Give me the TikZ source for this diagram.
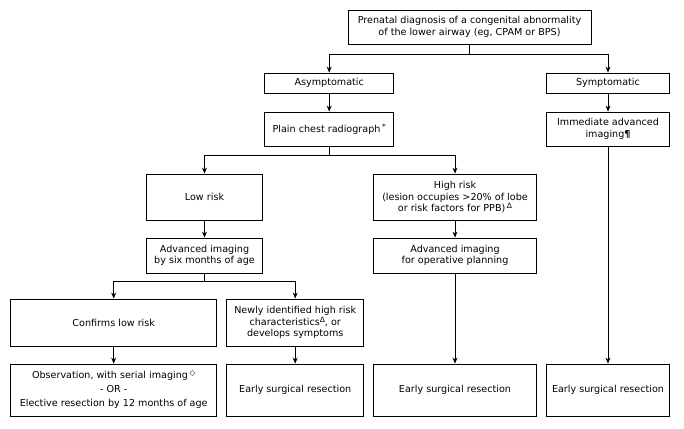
\documentclass[tikz,border=0pt]{standalone}
\usepackage{fontspec}
\setmainfont{DejaVu Sans}
\usetikzlibrary{arrows.meta}
\newcommand{\fnmark}[1]{\raisebox{0.55ex}{\fontsize{7.5}{8}\selectfont #1}}
\begin{document}
\begin{tikzpicture}[x=1pt, y=-1pt, line width=0.8pt,
    box/.style={draw, align=center, inner sep=2pt, font=\fontsize{9.6}{11.5}\selectfont},
    arr/.style={-{Stealth[length=6pt, width=5pt]}}]
    \useasboundingbox (0,0) rectangle (684,428);
    \node[box, minimum width=243pt, minimum height=34pt] (prenatal) at (469.5,27) {Prenatal diagnosis of a congenital abnormality\\of the lower airway (eg, CPAM or BPS)};
    \node[box, minimum width=129pt, minimum height=20pt] (asym) at (329.2,83) {Asymptomatic};
    \node[box, minimum width=122.6pt, minimum height=20pt] (sym) at (608,83) {Symptomatic};
    \node[box, minimum width=129pt, minimum height=34pt] (chest) at (329.2,129) {Plain chest radiograph\,\fnmark{*}};
    \node[box, minimum width=122.6pt, minimum height=34pt] (immed) at (608,129) {Immediate advanced\\imaging\textbf{¶}};
    \node[box, minimum width=115.6pt, minimum height=46pt] (low) at (204.5,197) {Low risk};
    \node[box, minimum width=162.6pt, minimum height=46pt] (high) at (455,197) {High risk\\(lesion occupies >20\% of lobe\\or risk factors for PPB)\,\fnmark{Δ}};
    \node[box, minimum width=115.6pt, minimum height=35pt] (advlow) at (204.5,255.5) {Advanced imaging\\by six months of age};
    \node[box, minimum width=162.6pt, minimum height=35pt] (advhigh) at (455,255.5) {Advanced imaging\\for operative planning};
    \node[box, minimum width=206pt, minimum height=47pt] (confirm) at (113.7,322.5) {Confirms low risk};
    \node[box, minimum width=137pt, minimum height=47pt] (newly) at (295.2,322.5) {Newly identified high risk\\characteristics\fnmark{Δ}, or\\develops symptoms};
    \node[box, minimum width=206pt, minimum height=52pt] (observe) at (113.7,390) {Observation, with serial imaging\,\fnmark{◇}\\[2.5pt]- OR -\\[2.5pt]Elective resection by 12 months of age};
    \node[box, minimum width=137pt, minimum height=52pt] (early1) at (295.2,390) {Early surgical resection};
    \node[box, minimum width=162.6pt, minimum height=52pt] (early2) at (455,390) {Early surgical resection};
    \node[box, minimum width=122.6pt, minimum height=52pt] (early3) at (608,390) {Early surgical resection};
    \coordinate (split1) at (469.5,54);
    \coordinate (split2) at (329.2,155);
    \coordinate (split3) at (204.5,281);
    \draw (prenatal) -- (split1);
    \draw[arr] (split1) -| (asym);
    \draw[arr] (split1) -| (sym);
    \draw[arr] (asym) -- (chest);
    \draw[arr] (sym) -- (immed);
    \draw (chest) -- (split2);
    \draw[arr] (split2) -| (low);
    \draw[arr] (split2) -| (high);
    \draw[arr] (immed) -- (early3);
    \draw[arr] (low) -- (advlow);
    \draw[arr] (high) -- (advhigh);
    \draw[arr] (advhigh) -- (early2);
    \draw (advlow) -- (split3);
    \draw[arr] (split3) -| (confirm);
    \draw[arr] (split3) -| (newly);
    \draw[arr] (confirm) -- (observe);
    \draw[arr] (newly) -- (early1);
\end{tikzpicture}
\end{document}
